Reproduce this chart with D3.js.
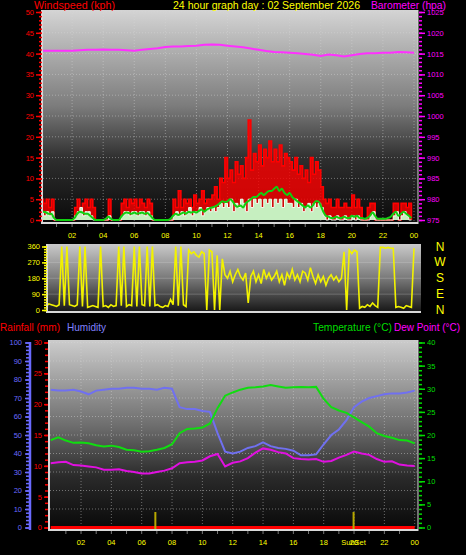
<!DOCTYPE html>
<html><head><meta charset="utf-8">
<script src="https://cdn.jsdelivr.net/npm/d3@7"></script>
<style>
body{margin:0;background:#000;}
svg{display:block;font-family:"Liberation Sans",Arial,sans-serif;}
</style></head><body>
<svg id="c" width="466" height="555"></svg>
<script>
// ---------- data ----------
const title = "24 hour graph day : 02 September 2026";
const hourLabels = ["02","04","06","08","10","12","14","16","18","20","22","00"];
const hourTicks = [2,4,6,8,10,12,14,16,18,20,22,24];
const dirLetters = ["N","W","S","E","N"];
const dirLetterValues = [360,270,180,90,0];

// 10-minute wind samples (kph)
const gust = [
 5,4,5,3,5,0, 0,0,0,0,0,0, 0,3,5,3,4,5, 3,5,3,0,0,0, 0,0,5,0,0,0, 0,4,5,3,5,4,
 5,3,5,4,3,5, 4,0,0,0,0,0, 0,0,0,5,3,7, 3,5,4,5,3,6, 4,5,7,4,5,5, 6,8,5,10,9,15,
 10,12,9,14,11,13, 10,15,24,12,16,14, 18,13,17,15,19,14, 17,14,18,13,16,15, 14,12,15,11,13,10, 12,9,15,11,14,12,
 8,5,4,5,3,3, 5,3,3,4,3,3, 6,3,5,3,0,0, 3,4,4,0,0,0, 0,0,0,0,4,4, 0,4,4,3,4,0];
const windSpeed = [
 2,1,2,1,2,0, 0,0,0,0,0,0, 0,1,2,3,1,2, 2,1,0,0,0,0, 0,0,1,0,0,0, 0,1,2,2,1,2,
 2,1,2,2,1,2, 1,0,0,0,0,0, 0,0,0,1,2,1, 2,1,2,3,1,2, 2,3,1,2,3,2, 3,2,3,4,3,4,
 3,5,2,4,3,5, 4,2,5,3,5,4, 5,3,5,4,5,3, 5,4,5,3,5,4, 4,3,5,3,4,2, 3,4,2,4,3,4,
 3,1,0,1,0,0, 1,0,0,1,0,0, 1,0,1,0,0,0, 0,1,2,0,0,0, 0,0,0,0,1,2, 0,1,2,1,0,0];
const windAvg = [
 1.5,2,1.8,1.5,1.5,0.5, 0,0,0,0,0,0, 0,0.5,1.5,2,1.8,1.5, 1.5,1,0.5,0,0,0, 0,0.3,0.8,0.3,0,0, 0,0.8,1.5,1.8,1.7,1.5,
 1.8,1.5,1.6,1.8,1.5,1.7, 1.2,0.5,0,0,0,0, 0,0,0.3,1,1.5,1.2, 1.5,1.8,1.5,2,1.8,2, 1.8,2.2,2.5,2,2.5,2.8, 3,3.2,3.5,4,4.5,4.3,
 4.5,5,4.5,3.5,3.2,3.5, 3,4,4.5,5,5.5,5.5, 6,6.5,6,6.5,7,7, 7.5,8,7,7.5,6.5,6, 6.5,5.5,5,4.5,4,3.5, 3,3.5,3,3.5,4.5,4.5,
 3.5,2,1,0.8,0.5,0.5, 0.8,0.5,0.5,0.8,0.5,0.5, 1,0.8,1,0.5,0.5,0.3, 0.5,1,1.8,1,0.3,0.3, 0.3,0.3,0.5,0.8,1.5,2, 1,1.5,2,1.5,1,0.5];
// 10-minute wind direction (degrees)
const windDir = [
 25,30,20,35,30,25, 20,30,360,25,360,30, 25,20,30,360,20,360, 15,20,25,20,15,360, 20,25,15,30,20,25, 360,25,360,20,30,25,
 360,20,360,30,25,360, 20,360,25,30,20,15, 25,20,60,30,360,25, 360,30,20,340,320,330, 310,300,330,320,0,340, 330,0,310,0,290,200,
 180,220,160,200,230,190, 170,210,40,190,220,160, 200,150,230,180,210,170, 190,220,160,200,140,210, 180,230,170,200,160,220, 210,170,240,190,150,200,
 160,190,140,180,200,170, 190,160,180,330,0,340, 320,340,330,10,20,15, 30,20,40,25,15,355, 355,350,355,350,350,15, 20,15,10,25,20,15, 350];
// half-hourly samples
const barometer = [1015.7,1015.7,1015.7,1015.7,1015.7,1015.8,1015.9,1015.9,1016.0,1015.9,1015.9,1015.8,1015.7,1015.9,1016.1,1016.3,
 1016.6,1016.7,1016.7,1016.8,1016.9,1017.1,1017.2,1017.1,1016.9,1016.7,1016.5,1016.2,1015.9,1015.6,1015.4,1015.3,
 1015.2,1015.1,1014.9,1014.7,1014.4,1014.8,1014.6,1014.3,1014.6,1014.9,1015.1,1015.1,1015.2,1015.2,1015.4,1015.3,1015.2];
const humidity = [74.5,74,74,74.5,73.5,72,74,74.5,75,75,75.5,75.5,75,75,74.5,75.5,
 75,65,64,64,63,62.5,51,41,40,41,43,44,46,44,43,42.5,
 41.5,39,39,39.5,45,50,53,58,65,68,70,71,72,72.5,72.5,73,74];
const temperature = [18.9,19.5,18.8,18.3,18.4,18.2,17.8,17.5,17.7,17.4,16.8,16.7,16.4,16.5,16.8,17.2,
 18,20.4,21.3,21.4,21.6,22.5,25.8,28.5,29.2,29.8,30.2,30.3,30.5,30.8,30.5,30.2,
 30.3,30.4,30.3,30.4,27.8,26,25.3,24.8,23.8,22.8,21.8,20.4,19.8,19.4,18.9,18.8,18.2];
const dewPoint = [13.9,14.1,14.2,13.5,13.4,13.2,13,12.5,12.5,12.6,12.2,12,11.7,11.7,12,12.3,
 12.8,13.9,14.1,14.2,14.5,15.4,15.9,13.2,14,14.3,15,16.2,17.1,16.8,16.3,16,
 15,14.8,14.7,14.8,14.2,14.4,15.1,15.7,16.4,16,15.7,14.8,14.2,14.3,13.6,13.4,13.3];
const rainfall = [0,0,0,0,0,0,0,0,0,0,0,0,0,0,0,0,0,0,0,0,0,0,0,0,0,0,0,0,0,0,0,0,0,0,0,0,0,0,0,0,0,0,0,0,0,0,0,0,0];
const sunEvents = [{name:"SunRise", hour:6.9, label:""},{name:"SunSet", hour:19.97, label:"SunSet"}];

// ---------- drawing ----------
const svg = d3.select("#c");
const defs = svg.append("defs");
function grad(id, stops){
  const g = defs.append("linearGradient").attr("id",id).attr("x1",0).attr("y1",0).attr("x2",0).attr("y2",1);
  stops.forEach(([o,c])=>g.append("stop").attr("offset",o).attr("stop-color",c));
}
grad("gTop",[[0,"#d4d4d4"],[0.45,"#7c7c7c"],[0.7,"#2e2e2e"],[1,"#0a0a0a"]]);
grad("gMid",[[0,"#cacaca"],[0.5,"#7a7a7a"],[1,"#161616"]]);
grad("gBot",[[0,"#cccccc"],[0.45,"#6e6e6e"],[0.72,"#2a2a2a"],[1,"#080808"]]);
function clip(id,P){ defs.append("clipPath").attr("id",id).append("rect").attr("x",P.x0).attr("y",P.y0).attr("width",P.x1-P.x0).attr("height",P.y1-P.y0); }

const T = {x0:43, x1:418, y0:10, y1:223};
const M = {x0:48, x1:421, y0:244, y1:312};
const B = {x0:50, x1:418, y0:340, y1:530};
clip("cT",T); clip("cM",M); clip("cB",B);

const xTop = d3.scaleLinear([0,24],[41,414]);
const ySpeed = d3.scaleLinear([0,50],[220,12]);
const yBaro = d3.scaleLinear([975,1025],[220,12]);
const yDir = d3.scaleLinear([0,360],[310,246.5]);
const xBot = d3.scaleLinear([0,24],[50.7,414.7]);
const yHum = d3.scaleLinear([0,100],[527.5,342.5]);
const yRain = d3.scaleLinear([0,30],[527.5,342.5]);
const yTemp = d3.scaleLinear([0,40],[527.5,342.5]);

const tenMin = i => i/6;
const halfHour = i => i/2;

function panelBg(P, g){
  svg.append("rect").attr("x",P.x0).attr("y",P.y0).attr("width",P.x1-P.x0).attr("height",P.y1-P.y0).attr("fill",`url(#${g})`);
}
function border(P, right){
  const g = svg.append("g").attr("stroke","#d8d8d8").attr("stroke-width",2);
  g.append("line").attr("x1",P.x0-1).attr("x2",P.x0-1).attr("y1",P.y0).attr("y2",P.y1+1);
  g.append("line").attr("x1",P.x0-1).attr("x2",P.x1).attr("y1",P.y1).attr("y2",P.y1);
  if(right) g.append("line").attr("x1",P.x1).attr("x2",P.x1).attr("y1",P.y0).attr("y2",P.y1+1).attr("stroke-width",1);
}
function yAxis(scale, side, xpos, major, minor, color, fmt, size){
  const mk = side==="left" ? d3.axisLeft : d3.axisRight;
  const gMin = svg.append("g").attr("transform",`translate(${xpos},0)`)
    .call(mk(scale).tickValues(minor).tickSize(3).tickFormat(""));
  const gMaj = svg.append("g").attr("transform",`translate(${xpos},0)`)
    .call(mk(scale).tickValues(major).tickSize(size||6).tickPadding(2).tickFormat(fmt||d3.format("d")));
  [gMin,gMaj].forEach(g=>{
    g.select(".domain").remove();
    g.selectAll("line").attr("stroke",color).attr("stroke-width",1.5);
    g.selectAll("text").attr("fill",color).attr("font-size","7.5px").attr("font-family","Liberation Sans, Arial, sans-serif");
  });
  return gMaj;
}
function txt(x,y,s,color,size,anchor,width){
  const t = svg.append("text").attr("x",x).attr("y",y).attr("fill",color).attr("font-size",size+"px").attr("text-anchor",anchor||"start").text(s);
  if(width) t.attr("textLength",width).attr("lengthAdjust","spacingAndGlyphs");
  return t;
}

// ===== top panel =====
panelBg(T,"gTop");
{
  const g = svg.append("g").attr("stroke","#d8d8d8").attr("stroke-opacity",0.45).attr("stroke-dasharray","1,2");
  hourTicks.forEach(h=>{ if(xTop(h)<T.x1-2) g.append("line").attr("x1",xTop(h)).attr("x2",xTop(h)).attr("y1",T.y0).attr("y2",T.y1); });
  d3.range(5,51,5).forEach(v=>g.append("line").attr("x1",T.x0).attr("x2",T.x1).attr("y1",ySpeed(v)).attr("y2",ySpeed(v)));
}
{
  const g = svg.append("g").attr("clip-path","url(#cT)");
  const area = d3.area().x((d,i)=>xTop(tenMin(i))).y0(ySpeed(0)).y1(d=>ySpeed(d)).curve(d3.curveStepAfter);
  const line = d3.line().x((d,i)=>xTop(tenMin(i))).y(d=>ySpeed(d)).curve(d3.curveStepAfter);
  g.append("path").datum(gust).attr("d",area).attr("fill","#ff0000").attr("fill-opacity",0.8);
  g.append("path").datum(gust).attr("d",line).attr("fill","none").attr("stroke","#ff0000").attr("stroke-width",1.6);
  g.append("path").datum(windSpeed).attr("d",area).attr("fill","#c6efc0");
  g.append("path").datum(windSpeed).attr("d",line).attr("fill","none").attr("stroke","#f2fff0").attr("stroke-width",1);
  g.append("path").datum(windAvg).attr("d",d3.line().x((d,i)=>xTop(tenMin(i))).y(d=>ySpeed(d)).curve(d3.curveMonotoneX))
    .attr("fill","none").attr("stroke","#10d010").attr("stroke-width",2);
  g.append("path").datum(barometer).attr("d",d3.line().x((d,i)=>xTop(halfHour(i))).y(d=>yBaro(d)))
    .attr("fill","none").attr("stroke","#ff30ff").attr("stroke-width",2);
}
border(T,true);
yAxis(ySpeed,"left",42,d3.range(0,51,5),d3.range(0,51,1),"#ff0000");
yAxis(yBaro,"right",419,d3.range(975,1026,5),d3.range(975,1026,1),"#ff00ff");
{
  const g = svg.append("g").attr("stroke","#777");
  d3.range(1,24).forEach(h=>g.append("line").attr("x1",xTop(h)).attr("x2",xTop(h)).attr("y1",224).attr("y2",227));
}
hourTicks.forEach((h,i)=>txt(xTop(h),238,hourLabels[i],"#ffff00",7.5,"middle"));
txt(34,8.5,"Windspeed (kph)","#ff0000",10.5,"start",81);
txt(173,8.5,title,"#ffff00",10.5,"start",187);
txt(371,8.5,"Barometer (hpa)","#ff00ff",10.5,"start",75);

// ===== middle panel =====
panelBg(M,"gMid");
{
  const g = svg.append("g").attr("stroke","#e0e0e0").attr("stroke-opacity",0.25);
  [90,180,270].forEach(v=>g.append("line").attr("x1",M.x0).attr("x2",M.x1).attr("y1",yDir(v)).attr("y2",yDir(v)));
}
svg.append("g").attr("clip-path","url(#cM)").append("path").datum(windDir)
  .attr("d",d3.line().x((d,i)=>xTop(tenMin(i))).y(d=>yDir(d)))
  .attr("fill","none").attr("stroke","#f2f200").attr("stroke-width",1.6);
border(M,false);
yAxis(yDir,"left",47,[0,90,180,270,360],d3.range(0,361,15),"#ffff00",null,5);
dirLetters.forEach((s,i)=>txt(440,yDir(dirLetterValues[i])+4,s,"#ffff00",12,"middle"));

// ===== bottom panel =====
panelBg(B,"gBot");
{
  const g = svg.append("g").attr("stroke","#d8d8d8").attr("stroke-opacity",0.45).attr("stroke-dasharray","1,2");
  hourTicks.forEach(h=>{ if(xBot(h)<B.x1-2) g.append("line").attr("x1",xBot(h)).attr("x2",xBot(h)).attr("y1",B.y0).attr("y2",B.y1); });
  d3.range(10,101,10).forEach(v=>g.append("line").attr("x1",B.x0).attr("x2",B.x1).attr("y1",yHum(v)).attr("y2",yHum(v)));
}
{
  const g = svg.append("g").attr("clip-path","url(#cB)");
  const ln = (sc)=>d3.line().x((d,i)=>xBot(halfHour(i))).y(d=>sc(d));
  g.append("path").datum(rainfall).attr("d",ln(yRain)).attr("fill","none").attr("stroke","#ff0000").attr("stroke-width",3);
  sunEvents.forEach(s=>g.append("line").attr("x1",xBot(s.hour)).attr("x2",xBot(s.hour)).attr("y1",512).attr("y2",531)
    .attr("stroke","#b8a800").attr("stroke-width",2));
  g.append("path").datum(humidity).attr("d",ln(yHum)).attr("fill","none").attr("stroke","#7070f0").attr("stroke-width",2);
  g.append("path").datum(temperature).attr("d",ln(yTemp)).attr("fill","none").attr("stroke","#10dd10").attr("stroke-width",2);
  g.append("path").datum(dewPoint).attr("d",ln(yTemp)).attr("fill","none").attr("stroke","#e010e0").attr("stroke-width",2);
}
border(B,true);
svg.append("line").attr("x1",30).attr("x2",30).attr("y1",342).attr("y2",530).attr("stroke","#6a6aff").attr("stroke-width",2.5);
yAxis(yHum,"left",29,d3.range(0,101,10),d3.range(0,101,2),"#6a6aff",null,4).selectAll("text").attr("x",-7);
yAxis(yRain,"left",48,d3.range(0,31,5),d3.range(0,31,1),"#ff0000",null,4);
yAxis(yTemp,"right",419,d3.range(0,41,5),d3.range(0,41,1),"#00dd00");
{
  const g = svg.append("g").attr("stroke","#777");
  d3.range(1,24).forEach(h=>g.append("line").attr("x1",xBot(h)).attr("x2",xBot(h)).attr("y1",531).attr("y2",534));
}
hourTicks.forEach((h,i)=>txt(xBot(h),545,hourLabels[i],"#ffff00",7.5,"middle"));
sunEvents.filter(s=>s.label).forEach(s=>txt(xBot(s.hour),545,s.label,"#ffff00",7.5,"middle"));
txt(0,331,"Rainfall (mm)","#ff0000",11,"start",60);
txt(67,331,"Humidity","#8080ff",11,"start",39);
txt(313,331,"Temperature (°C)","#00dd00",11,"start",79);
txt(394,331,"Dew Point (°C)","#ff00ff",11,"start",66);
</script>
</body></html>
